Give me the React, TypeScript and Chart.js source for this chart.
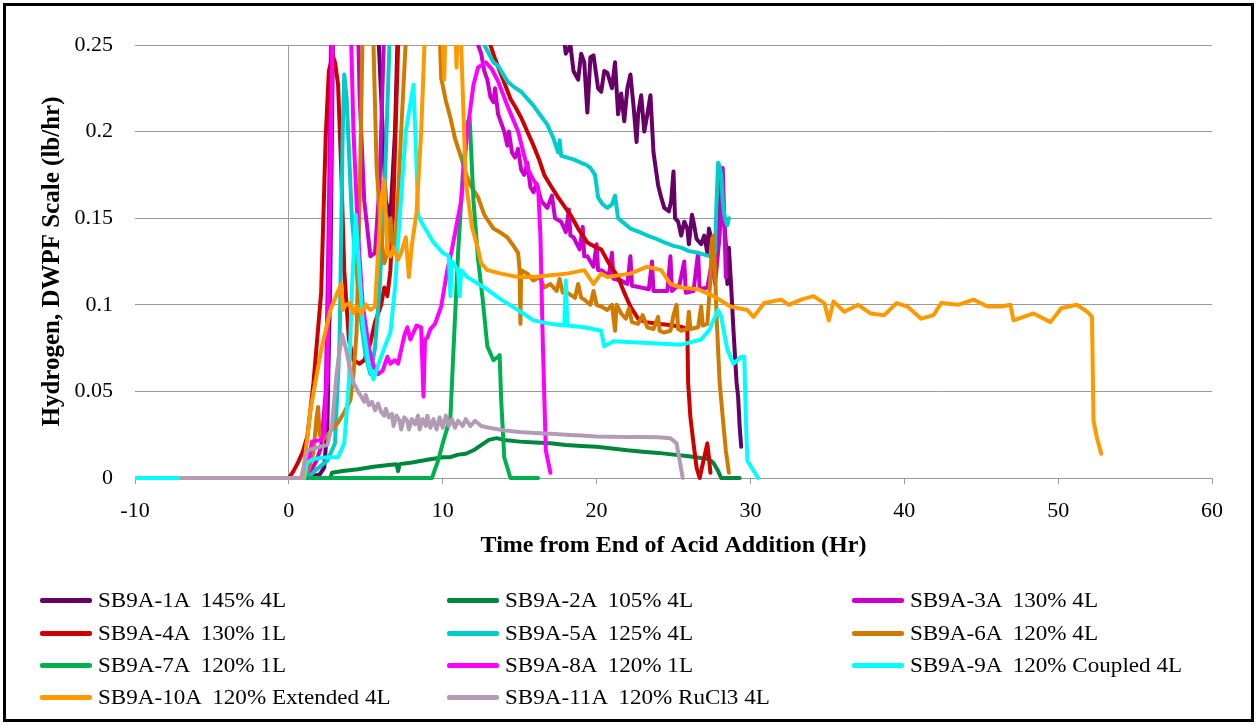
import React, { useEffect, useRef } from "react";
import { Chart, registerables } from "chart.js";

Chart.register(...registerables);

type P = [number, number][];

const seriesNames = [
  "SB9A-1A  145% 4L",
  "SB9A-2A  105% 4L",
  "SB9A-3A  130% 4L",
  "SB9A-4A  130% 1L",
  "SB9A-5A  125% 4L",
  "SB9A-6A  120% 4L",
  "SB9A-7A  120% 1L",
  "SB9A-8A  120% 1L",
  "SB9A-9A  120% Coupled 4L",
  "SB9A-10A  120% Extended 4L",
  "SB9A-11A  120% RuCl3 4L",
];

const seriesColors = [
  "#660066", "#00873d", "#cc00cc", "#cc0000", "#00cccc", "#d07b00",
  "#00b050", "#ff00ff", "#00ffff", "#ff9900", "#b39bb5",
];

const xTickLabels = ["-10", "0", "10", "20", "30", "40", "50", "60"];
const yTickLabels = ["0", "0.05", "0.1", "0.15", "0.2", "0.25"];

const sb1A: P = [[1.0,0],[2.0,0.002],[2.3,0.006],[2.5,0.03],[2.7,0.12],[2.9,0.28],[3.2,0.34],[4.5,0.36],[5.6,0.3],[6.0,0.22],[6.3,0.16],[6.6,0.15],[6.9,0.2],[7.2,0.3],[8,0.36],[17.5,0.33],[17.8,0.26],[18.0,0.245],[18.3,0.25],[18.5,0.235],[18.8,0.23],[19.0,0.245],[19.2,0.24],[19.4,0.211],[19.6,0.243],[19.8,0.244],[20.1,0.225],[20.3,0.223],[20.5,0.235],[20.7,0.234],[21.0,0.225],[21.2,0.24],[21.4,0.21],[21.6,0.222],[21.8,0.206],[22.0,0.225],[22.2,0.233],[22.4,0.215],[22.6,0.194],[22.7,0.21],[22.9,0.221],[23.1,0.2],[23.3,0.21],[23.5,0.221],[23.7,0.188],[24.0,0.169],[24.2,0.162],[24.4,0.156],[24.7,0.154],[24.85,0.16],[25.0,0.177],[25.1,0.15],[25.3,0.148],[25.5,0.14],[25.7,0.148],[25.9,0.144],[26.0,0.135],[26.2,0.152],[26.3,0.148],[26.5,0.138],[26.8,0.135],[27.0,0.14],[27.2,0.13],[27.3,0.144],[27.6,0.133],[27.8,0.135],[28.0,0.15],[28.1,0.178],[28.2,0.16],[28.4,0.135],[28.5,0.112],[28.6,0.133],[28.75,0.11],[28.9,0.085],[29.1,0.055],[29.2,0.047],[29.3,0.03],[29.4,0.018]];

const sb2A: P = [[2.7,0],[2.8,0.003],[3.5,0.004],[4.5,0.005],[5.5,0.0065],[6.5,0.0075],[7.0,0.008],[7.1,0.004],[7.2,0.008],[8,0.009],[9,0.0105],[10,0.012],[10.5,0.012],[11,0.0135],[11.5,0.014],[12,0.016],[12.5,0.019],[13.0,0.022],[13.5,0.023],[14,0.022],[15,0.021],[16,0.0205],[17,0.02],[18,0.019],[19,0.0185],[20,0.018],[21,0.017],[22,0.016],[23,0.0152],[24,0.0145],[25,0.0135],[26,0.0125],[26.8,0.0115],[27.3,0.011],[27.6,0.0087],[27.9,0.004],[28.1,0],[29.3,0]];

const sb3A: P = [[1.2,0],[1.8,0.01],[2.1,0.018],[2.4,0.05],[2.6,0.15],[2.8,0.3],[3.0,0.35],[4.0,0.35],[4.4,0.3],[4.6,0.22],[4.9,0.16],[5.3,0.128],[5.6,0.13],[5.9,0.17],[6.2,0.26],[6.5,0.33],[8,0.36],[11,0.34],[12.0,0.28],[12.3,0.25],[12.5,0.245],[12.7,0.235],[12.9,0.23],[13.1,0.22],[13.3,0.217],[13.4,0.225],[13.6,0.21],[13.8,0.205],[14.0,0.2],[14.2,0.192],[14.3,0.2],[14.5,0.188],[14.7,0.185],[14.9,0.19],[15.1,0.178],[15.3,0.175],[15.5,0.182],[15.7,0.168],[15.9,0.165],[16.1,0.17],[16.4,0.16],[16.8,0.156],[17.1,0.163],[17.3,0.15],[17.7,0.148],[18.0,0.142],[18.2,0.155],[18.3,0.14],[18.5,0.139],[18.9,0.132],[19.1,0.145],[19.2,0.128],[19.4,0.128],[19.8,0.122],[20.0,0.135],[20.1,0.12],[20.3,0.12],[20.8,0.117],[21.0,0.13],[21.1,0.115],[21.6,0.114],[22.0,0.112],[22.2,0.128],[22.3,0.111],[22.9,0.11],[23.4,0.109],[23.6,0.125],[23.7,0.108],[24.2,0.108],[24.6,0.108],[24.8,0.128],[24.9,0.108],[25.4,0.112],[25.7,0.125],[25.8,0.107],[26.3,0.108],[26.6,0.13],[26.7,0.109],[27.2,0.11],[27.5,0.125],[27.7,0.112],[28.0,0.14],[28.2,0.179],[28.3,0.15],[28.4,0.116]];

const sb4A: P = [[0,0],[0.3,0.004],[0.6,0.009],[0.9,0.015],[1.2,0.024],[1.6,0.055],[2.1,0.107],[2.4,0.198],[2.6,0.235],[2.85,0.244],[3.0,0.24],[3.2,0.227],[3.4,0.179],[3.6,0.12],[3.9,0.08],[4.2,0.068],[4.6,0.066],[4.9,0.068],[5.3,0.078],[5.6,0.09],[6.0,0.1],[6.2,0.11],[6.4,0.105],[6.6,0.12],[6.8,0.16],[7.0,0.22],[7.2,0.28],[7.5,0.34],[10,0.36],[12.8,0.3],[13.1,0.25],[13.4,0.242],[13.8,0.233],[14.1,0.226],[14.4,0.219],[14.8,0.213],[15.1,0.208],[15.5,0.2],[15.9,0.192],[16.3,0.183],[16.6,0.175],[17.0,0.169],[17.5,0.162],[17.9,0.157],[18.3,0.152],[18.8,0.144],[19.4,0.136],[20.0,0.133],[20.3,0.132],[20.8,0.124],[21.4,0.116],[21.8,0.107],[22.2,0.099],[22.7,0.092],[23.2,0.09],[24,0.089],[25,0.088],[25.6,0.087],[25.9,0.086],[25.95,0.055],[26.1,0.035],[26.3,0.02],[26.5,0.006],[26.7,0.0],[26.9,0.008],[27.2,0.02],[27.3,0.012],[27.4,0.003]];

const sb5A: P = [[1.2,0],[1.8,0.005],[2.5,0.01],[3.0,0.02],[3.3,0.08],[3.5,0.2],[3.6,0.233],[3.75,0.22],[3.9,0.19],[4.1,0.15],[4.4,0.12],[4.7,0.09],[5.0,0.07],[5.3,0.06],[5.6,0.075],[5.9,0.11],[6.2,0.16],[6.5,0.24],[6.8,0.32],[9,0.36],[12.4,0.28],[12.7,0.25],[13.3,0.24],[13.6,0.238],[14.2,0.229],[14.6,0.226],[15.1,0.223],[15.5,0.219],[15.9,0.215],[16.3,0.21],[16.8,0.204],[17.2,0.196],[17.5,0.188],[17.6,0.195],[17.7,0.186],[18.1,0.185],[18.5,0.184],[19.0,0.182],[19.3,0.181],[19.6,0.179],[19.9,0.175],[20.1,0.162],[20.4,0.158],[20.7,0.156],[21.0,0.158],[21.2,0.163],[21.4,0.15],[21.8,0.147],[22.2,0.144],[22.8,0.142],[23.3,0.14],[23.9,0.138],[24.4,0.136],[25.0,0.134],[25.5,0.133],[26.0,0.131],[26.6,0.13],[27.0,0.129],[27.4,0.128],[27.7,0.13],[27.8,0.16],[27.9,0.182],[28.0,0.18],[28.1,0.175],[28.2,0.16],[28.3,0.152],[28.4,0.148],[28.5,0.146],[28.6,0.15]];

const sb6A: P = [[1.0,0],[1.3,0.005],[1.6,0.015],[1.8,0.035],[1.9,0.041],[2.0,0.025],[2.2,0.022],[2.6,0.026],[3.2,0.032],[3.6,0.038],[4.0,0.045],[4.2,0.06],[4.4,0.084],[4.6,0.16],[4.8,0.26],[5.0,0.32],[5.3,0.3],[5.5,0.25],[5.7,0.18],[6.0,0.14],[6.2,0.124],[6.4,0.13],[6.6,0.15],[6.8,0.13],[7.0,0.145],[7.3,0.2],[7.7,0.27],[8.0,0.33],[9.5,0.33],[9.8,0.26],[9.9,0.231],[10.2,0.218],[10.5,0.208],[10.8,0.196],[11.2,0.185],[11.5,0.176],[11.8,0.169],[12.3,0.162],[12.7,0.152],[13.0,0.148],[13.3,0.144],[13.7,0.142],[14.2,0.139],[14.6,0.134],[14.9,0.13],[15.0,0.12],[15.05,0.089],[15.1,0.12],[15.5,0.118],[15.9,0.114],[16.3,0.116],[16.6,0.11],[17.0,0.112],[17.4,0.108],[17.6,0.115],[17.8,0.107],[18.1,0.107],[18.6,0.104],[18.8,0.112],[19.0,0.104],[19.2,0.103],[19.6,0.1],[19.8,0.108],[20.0,0.1],[20.3,0.099],[20.7,0.097],[21.0,0.1],[21.2,0.085],[21.3,0.1],[21.6,0.095],[21.9,0.092],[22.1,0.098],[22.3,0.09],[22.7,0.089],[23.0,0.094],[23.3,0.087],[23.7,0.086],[24.0,0.093],[24.1,0.085],[24.4,0.084],[24.8,0.085],[25.0,0.094],[25.2,0.1],[25.3,0.086],[25.5,0.085],[25.9,0.086],[26.0,0.096],[26.1,0.086],[26.6,0.087],[26.8,0.099],[26.9,0.088],[27.2,0.089],[27.4,0.115],[27.5,0.138],[27.6,0.14],[27.7,0.12],[27.8,0.093],[28.0,0.055],[28.2,0.035],[28.4,0.016],[28.6,0.003]];

const sb7A: P = [[1.2,0],[9.3,0],[9.7,0.01],[10.0,0.02],[10.5,0.035],[10.7,0.074],[11.0,0.13],[11.3,0.175],[11.6,0.205],[11.75,0.208],[12.0,0.16],[12.3,0.126],[12.6,0.103],[12.9,0.076],[13.3,0.068],[13.6,0.07],[13.7,0.071],[13.8,0.045],[14.0,0.012],[14.4,0],[16.2,0]];

const sb8A: P = [[1.0,0],[1.3,0.01],[1.5,0.021],[2.1,0.022],[2.3,0.026],[2.5,0.06],[2.7,0.16],[2.9,0.3],[3.2,0.35],[3.8,0.33],[4.0,0.27],[4.2,0.2],[4.5,0.14],[4.8,0.1],[5.2,0.075],[5.5,0.065],[5.8,0.06],[6.1,0.062],[6.4,0.07],[6.6,0.066],[6.9,0.068],[7.1,0.066],[7.3,0.074],[7.5,0.082],[7.7,0.087],[7.9,0.08],[8.1,0.084],[8.3,0.088],[8.6,0.087],[8.75,0.047],[8.85,0.08],[9.0,0.081],[9.2,0.086],[9.5,0.089],[9.9,0.099],[10.3,0.12],[10.6,0.132],[11.2,0.16],[11.6,0.2],[12.0,0.227],[12.3,0.237],[12.8,0.24],[13.2,0.236],[13.6,0.229],[14.2,0.215],[14.9,0.2],[15.5,0.179],[15.9,0.172],[16.2,0.168],[16.35,0.14],[16.5,0.08],[16.7,0.016],[17.0,0.003]];

const sb9A: P = [[-10,0],[1.0,0],[1.2,0.009],[1.6,0.011],[2.5,0.012],[3.2,0.012],[3.6,0.02],[3.9,0.055],[4.1,0.11],[4.35,0.152],[4.5,0.13],[4.8,0.09],[5.2,0.065],[5.5,0.057],[5.8,0.065],[6.2,0.075],[6.6,0.084],[6.9,0.11],[7.2,0.15],[7.6,0.2],[8.1,0.227],[8.3,0.18],[8.4,0.152],[8.6,0.148],[9.0,0.142],[9.4,0.136],[10.0,0.13],[10.4,0.128],[10.5,0.105],[10.6,0.125],[11.0,0.12],[11.1,0.105],[11.2,0.12],[11.6,0.116],[12.7,0.11],[13.8,0.103],[14.9,0.097],[15.9,0.091],[17.0,0.089],[17.9,0.088],[18.0,0.114],[18.1,0.088],[19.2,0.087],[20.3,0.085],[20.5,0.076],[21.1,0.079],[23.3,0.078],[25.5,0.077],[26.8,0.08],[27.3,0.085],[27.9,0.097],[28.1,0.093],[28.5,0.074],[28.9,0.066],[29.4,0.07],[29.6,0.07],[29.7,0.035],[29.8,0.01],[30.5,0]];

const sb10A: P = [[0.9,0],[1.4,0.039],[2.1,0.074],[2.7,0.097],[3.2,0.108],[3.4,0.112],[3.5,0.097],[3.7,0.1],[4.0,0.101],[4.2,0.095],[4.4,0.099],[4.7,0.095],[5.0,0.1],[5.3,0.097],[5.6,0.099],[5.8,0.13],[6.0,0.16],[6.2,0.172],[6.4,0.13],[6.6,0.128],[6.8,0.133],[7.1,0.126],[7.3,0.13],[7.6,0.139],[7.8,0.116],[8.0,0.135],[8.3,0.153],[8.6,0.2],[8.9,0.27],[9.2,0.33],[9.6,0.3],[9.9,0.28],[10.1,0.23],[10.2,0.27],[10.7,0.3],[10.9,0.237],[11.0,0.27],[11.2,0.25],[11.5,0.171],[11.9,0.145],[12.3,0.132],[12.5,0.124],[12.9,0.12],[13.8,0.118],[14.9,0.116],[15.9,0.116],[17.0,0.117],[18.1,0.118],[19.2,0.12],[19.8,0.112],[20.3,0.118],[20.7,0.116],[22.2,0.118],[23.3,0.122],[24.2,0.12],[24.8,0.112],[25.5,0.11],[26.6,0.109],[27.6,0.105],[28.7,0.099],[29.8,0.097],[30.2,0.093],[30.9,0.101],[32.0,0.103],[32.5,0.1],[33.3,0.103],[34.1,0.105],[34.8,0.101],[35.1,0.091],[35.4,0.102],[36.1,0.096],[37.0,0.1],[37.8,0.095],[38.7,0.094],[39.5,0.101],[40.2,0.099],[41.1,0.092],[41.9,0.094],[42.4,0.101],[43.5,0.1],[44.5,0.103],[45.4,0.099],[46.3,0.099],[46.9,0.1],[47.1,0.091],[48.4,0.095],[49.5,0.09],[50.2,0.098],[51.2,0.1],[51.9,0.096],[52.2,0.093],[52.3,0.033],[52.5,0.024],[52.8,0.014]];

const sb11A: P = [[-7,0],[0.8,0],[1.2,0.016],[1.6,0.017],[2.0,0.018],[2.5,0.019],[2.8,0.03],[3.1,0.06],[3.45,0.083],[3.7,0.075],[4.0,0.062],[4.2,0.055],[4.5,0.05],[4.7,0.047],[4.9,0.044],[5.0,0.048],[5.2,0.042],[5.4,0.044],[5.6,0.039],[5.8,0.043],[6.0,0.038],[6.2,0.036],[6.3,0.04],[6.5,0.035],[6.7,0.037],[6.8,0.03],[7.0,0.036],[7.2,0.033],[7.3,0.028],[7.5,0.035],[7.7,0.033],[7.8,0.028],[8.0,0.034],[8.2,0.031],[8.4,0.036],[8.5,0.028],[8.7,0.034],[8.9,0.03],[9.0,0.036],[9.2,0.029],[9.4,0.034],[9.6,0.028],[9.8,0.035],[10.0,0.029],[10.2,0.036],[10.4,0.03],[10.6,0.034],[10.8,0.029],[11.0,0.033],[11.3,0.03],[11.5,0.034],[11.8,0.03],[12.1,0.033],[12.5,0.03],[13.0,0.029],[14.0,0.0275],[15,0.0265],[16,0.026],[17,0.0255],[18,0.025],[19,0.0245],[20,0.024],[21,0.0238],[22,0.0236],[23,0.0236],[24,0.0235],[24.8,0.023],[25.2,0.02],[25.4,0.01],[25.6,0]];

const seriesData: P[] = [sb1A, sb2A, sb3A, sb4A, sb5A, sb6A, sb7A, sb8A, sb9A, sb10A, sb11A];

const SERIF = "'Liberation Serif', 'Times New Roman', serif";
const GRID = "#9a9a9a";

const legendCols = [40, 447, 852];
const legendRows = [600, 633, 665, 697];

export default function App() {
  const ref = useRef<HTMLCanvasElement | null>(null);

  useEffect(() => {
    const canvas = ref.current;
    if (!canvas) return;
    const n = seriesData.length;
    const chart = new Chart(canvas, {
      type: "line",
      data: {
        datasets: seriesData.map((pts, i) => ({
          label: seriesNames[i],
          data: pts.map(([x, y]) => ({ x, y })),
          borderColor: seriesColors[i],
          backgroundColor: seriesColors[i],
          borderWidth: 4,
          pointRadius: 0,
          tension: 0,
          fill: false,
          borderJoinStyle: "round",
          borderCapStyle: "round",
          order: n - 1 - i,
          clip: { left: 0, top: 0, right: 0, bottom: 6 },
        })),
      },
      options: {
        animation: false,
        responsive: false,
        maintainAspectRatio: false,
        events: [],
        layout: { padding: { left: 34, top: 45, right: 45, bottom: 161 } },
        plugins: { legend: { display: false }, tooltip: { enabled: false } },
        scales: {
          x: {
            type: "linear",
            min: -10,
            max: 60,
            afterFit: (s: any) => { s.height = 86; },
            ticks: {
              stepSize: 10,
              padding: 14,
              color: "#000",
              font: { family: SERIF, size: 22 },
              callback: (v: any) => {
                const idx = Math.round((Number(v) + 10) / 10);
                return xTickLabels[idx] ?? "";
              },
            },
            grid: {
              color: (ctx: any) => (ctx.tick && ctx.tick.value === 0 ? GRID : "rgba(0,0,0,0)"),
              tickColor: GRID,
              tickLength: 6,
              lineWidth: 1,
            },
            border: { display: true, color: GRID, width: 1 },
            title: {
              display: true,
              text: "Time from End of Acid Addition (Hr)",
              color: "#000",
              font: { family: SERIF, size: 24, weight: "bold" },
              padding: { top: 4, bottom: 4 },
            },
          },
          y: {
            type: "linear",
            min: 0,
            max: 0.25,
            afterFit: (s: any) => { s.width = 101; },
            ticks: {
              stepSize: 0.05,
              padding: 22,
              color: "#000",
              font: { family: SERIF, size: 22 },
              callback: (v: any) => {
                const idx = Math.round(Number(v) / 0.05);
                return yTickLabels[idx] ?? "";
              },
            },
            grid: { color: GRID, lineWidth: 1, drawTicks: false },
            border: { display: false },
            title: {
              display: true,
              text: "Hydrogen, DWPF Scale (lb/hr)",
              color: "#000",
              font: { family: SERIF, size: 25, weight: "bold" },
              padding: { top: 4, bottom: 4 },
            },
          },
        },
      },
    } as any);
    return () => chart.destroy();
  }, []);

  return (
    <div style={{ position: "absolute", left: 0, top: 0, width: 1257, height: 725, background: "#fff", overflow: "hidden" }}>
      <canvas ref={ref} width={1257} height={725} style={{ position: "absolute", left: 0, top: 0, display: "block" }} />
      <div style={{ position: "absolute", left: 3, top: 3, width: 1251, height: 719, border: "3px solid #000", boxSizing: "border-box", pointerEvents: "none" }} />
      {seriesNames.map((name, i) => {
        const col = i % 3;
        const row = Math.floor(i / 3);
        const x = legendCols[col];
        const y = legendRows[row];
        return (
          <div key={name}>
            <div style={{ position: "absolute", left: x, top: y - 2.5, width: 52, height: 5, background: seriesColors[i], borderRadius: 2 }} />
            <div style={{ position: "absolute", left: x + 58, top: y - 12, fontFamily: SERIF, fontSize: 21, lineHeight: "24px", whiteSpace: "pre", color: "#000", transform: "scaleX(1.1)", transformOrigin: "0 50%" }}>{name}</div>
          </div>
        );
      })}
    </div>
  );
}
